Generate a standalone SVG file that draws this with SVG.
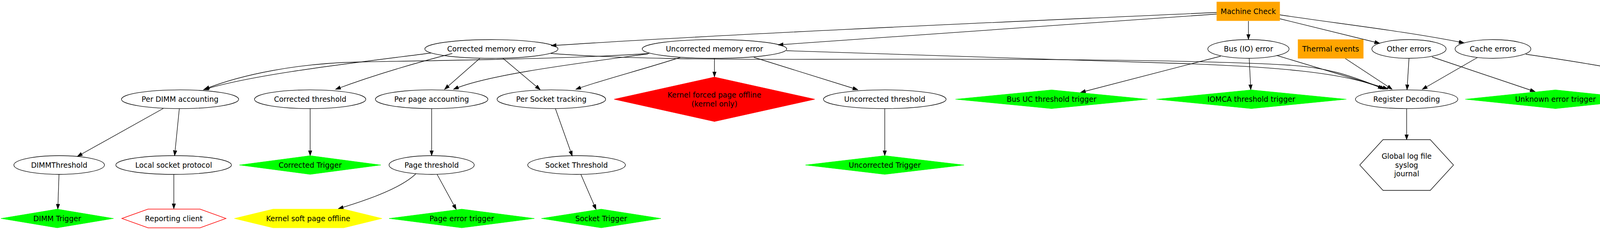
<svg xmlns="http://www.w3.org/2000/svg" width="4635" height="587" viewBox="0 0 4635 587">
<style>
.n ellipse{fill:none;stroke:#000;stroke-width:1.33}
.n text{font-family:"DejaVu Sans",sans-serif;font-size:18.67px;text-anchor:middle;fill:#000}
.orange{fill:#ffa500;stroke:#ffa500}
.green{fill:#00ff00;stroke:#00ff00}
.yellow{fill:#ffff00;stroke:#ffff00}
.red{fill:#ff0000;stroke:#ff0000}
.outline{fill:none;stroke:#000;stroke-width:1.33}
.redline{fill:none;stroke:#ff0000;stroke-width:1.33}
#edges path{fill:none;stroke:#000;stroke-width:1.33;marker-end:url(#arr)}
</style>
<defs>
<marker id="arr" markerUnits="userSpaceOnUse" markerWidth="14" markerHeight="10" refX="13.3" refY="4.7" orient="auto">
<path d="M0,0 L13.3,4.7 L0,9.4 z" fill="#000" stroke="#000" stroke-width="1"/>
</marker>
</defs>
<rect x="0" y="0" width="4635" height="587" fill="#fff"/>

<g id="edges">
<path d="M3115,32 C2600,55 1900,85 1411,117"/>
<path d="M3115,36 L1992,115"/>
<path d="M3196,54 L3196,101"/>
<path d="M3276,48 L3532,111"/>
<path d="M3276,38 C3420,60 3600,80 3748,110"/>
<path d="M1103,136 C900,162 650,190 521,230"/>
<path d="M1662,137 C1450,152 1100,155 916,159 C766,162 620,190 523,229"/>
<path d="M1158,137 C1050,165 950,195 859,229"/>
<path d="M1229,149 L1138,229"/>
<path d="M1287,149 L1383,230"/>
<path d="M1659,138 C1500,160 1250,190 1161,229"/>
<path d="M1742,147 C1640,180 1540,205 1474,229"/>
<path d="M1829,150 L1829,197"/>
<path d="M1930,147 L2196,230"/>
<path d="M2013,130 L3000,162 C3250,170 3450,185 3541,228"/>
<path d="M1410,137 C1580,150 1800,153 2100,152 C2700,150 3100,155 3300,167 C3420,174 3480,205 3546,228"/>
<path d="M3268,142 L3553,228"/>
<path d="M3444,150 L3564,229"/>
<path d="M3607,150 L3602,230"/>
<path d="M3783,147 L3641,229"/>
<path d="M3666,146 L3930,235"/>
<path d="M3906,139 C4050,160 4250,190 4368,237"/>
<path d="M3125,144 L2766,237"/>
<path d="M3198,150 L3202,230"/>
<path d="M418,278 L198,401"/>
<path d="M459,279 L447,399"/>
<path d="M794,279 L794,399"/>
<path d="M1105,279 L1105,399"/>
<path d="M1422,279 L1465,400"/>
<path d="M2265,279 L2265,399"/>
<path d="M151,447 L148,536"/>
<path d="M445,447 L445,535"/>
<path d="M1065,445 C1030,480 950,510 866,535"/>
<path d="M1119,447 L1168,537"/>
<path d="M1487,447 L1526,537"/>
<path d="M3601,279 L3601,358"/>
<path d="M4427,279 L4427,399"/>
</g>

<g id="machine_check" class="n"><rect x="3115" y="5" width="161" height="48" class="orange"/><text x="3195.5" y="35.5">Machine Check</text></g>

<g id="corrected_memory_error" class="n"><ellipse cx="1258" cy="125.5" rx="170.5" ry="24"/><text x="1258" y="132">Corrected memory error</text></g>
<g id="uncorrected_memory_error" class="n"><ellipse cx="1829" cy="125.5" rx="185" ry="24"/><text x="1829" y="132">Uncorrected memory error</text></g>
<g id="bus_io_error" class="n"><ellipse cx="3196" cy="125.5" rx="104" ry="24"/><text x="3196" y="132">Bus (IO) error</text></g>
<g id="thermal_events" class="n"><rect x="3323" y="101.5" width="167" height="48" class="orange"/><text x="3406.5" y="132">Thermal events</text></g>
<g id="other_errors" class="n"><ellipse cx="3607" cy="125.5" rx="95" ry="24"/><text x="3607" y="132">Other errors</text></g>
<g id="cache_errors" class="n"><ellipse cx="3822" cy="125.5" rx="97" ry="24"/><text x="3822" y="132">Cache errors</text></g>

<g id="per_dimm_accounting" class="n"><ellipse cx="461" cy="254.4" rx="150" ry="24"/><text x="461" y="261">Per DIMM accounting</text></g>
<g id="corrected_threshold" class="n"><ellipse cx="794" cy="254.4" rx="142.5" ry="24"/><text x="794" y="261">Corrected threshold</text></g>
<g id="per_page_accounting" class="n"><ellipse cx="1105" cy="254.4" rx="144" ry="24"/><text x="1105" y="261">Per page accounting</text></g>
<g id="per_socket_tracking" class="n"><ellipse cx="1411.5" cy="254.4" rx="139" ry="24"/><text x="1411.5" y="261">Per Socket tracking</text></g>
<g id="kernel_forced_page_offline" class="n"><polygon points="1829,197.5 2086,254.4 1829,311.5 1572,254.4" class="red"/><text x="1829" y="250">Kernel forced page offline</text><text x="1829" y="272.5">(kernel only)</text></g>
<g id="uncorrected_threshold" class="n"><ellipse cx="2265" cy="254.4" rx="157" ry="24"/><text x="2265" y="261">Uncorrected threshold</text></g>
<g id="bus_uc_threshold_trigger" class="n"><polygon points="2692,230.4 2938,254.4 2692,278.4 2446,254.4" class="green"/><text x="2692" y="261">Bus UC threshold trigger</text></g>
<g id="iomca_threshold_trigger" class="n"><polygon points="3203.5,230.4 3446.5,254.4 3203.5,278.4 2960.5,254.4" class="green"/><text x="3203.5" y="261">IOMCA threshold trigger</text></g>
<g id="register_decoding" class="n"><ellipse cx="3601" cy="254.4" rx="131" ry="24"/><text x="3601" y="261">Register Decoding</text></g>
<g id="unknown_error_trigger" class="n"><polygon points="3982,230.4 4213,254.4 3982,278.4 3751,254.4" class="green"/><text x="3982" y="261">Unknown error trigger</text></g>
<g id="cache_error_trigger" class="n"><polygon points="4427.5,230.4 4626.5,254.4 4427.5,278.4 4228.5,254.4" class="green"/><text x="4427.5" y="261">Cache error Trigger</text></g>

<g id="dimmthreshold" class="n"><ellipse cx="151.5" cy="423" rx="116" ry="24"/><text x="151.5" y="429.5">DIMMThreshold</text></g>
<g id="local_socket_protocol" class="n"><ellipse cx="444.5" cy="423" rx="148" ry="24"/><text x="444.5" y="429.5">Local socket protocol</text></g>
<g id="corrected_trigger" class="n"><polygon points="794,399 975,423 794,447 613,423" class="green"/><text x="794" y="429.5">Corrected Trigger</text></g>
<g id="page_threshold" class="n"><ellipse cx="1105" cy="423" rx="109" ry="24"/><text x="1105" y="429.5">Page threshold</text></g>
<g id="socket_threshold" class="n"><ellipse cx="1476" cy="423" rx="125" ry="24"/><text x="1476" y="429.5">Socket Threshold</text></g>
<g id="uncorrected_trigger" class="n"><polygon points="2265,399 2468,423 2265,447 2062,423" class="green"/><text x="2265" y="429.5">Uncorrected Trigger</text></g>
<g id="global_log_file" class="n"><polygon points="3481,423 3540.5,358 3661.5,358 3721,423 3661.5,488 3540.5,488" class="outline"/><text x="3601" y="407">Global log file</text><text x="3601" y="429.5">syslog</text><text x="3601" y="452">journal</text></g>
<g id="kernel_core_offlining" class="n"><polygon points="4427,399 4632,423 4427,447 4222,423" class="yellow"/><text x="4427" y="429.5">Kernel core offlining</text></g>

<g id="dimm_trigger" class="n"><polygon points="146.5,536 290.5,560 146.5,584 2.5,560" class="green"/><text x="146.5" y="566.5">DIMM Trigger</text></g>
<g id="reporting_client" class="n"><polygon points="312,560 379,536 512,536 578.5,560 512,584 379,584" class="redline"/><text x="445" y="566.5">Reporting client</text></g>
<g id="kernel_soft_page_offline" class="n"><polygon points="600,560 699,536 880,536 978,560 880,584 699,584" class="yellow"/><text x="789" y="566.5">Kernel soft page offline</text></g>
<g id="page_error_trigger" class="n"><polygon points="1182,536 1368,560 1182,584 996,560" class="green"/><text x="1182" y="566.5">Page error trigger</text></g>
<g id="socket_trigger" class="n"><polygon points="1539,536 1692,560 1539,584 1386,560" class="green"/><text x="1539" y="566.5">Socket Trigger</text></g>
</svg>
